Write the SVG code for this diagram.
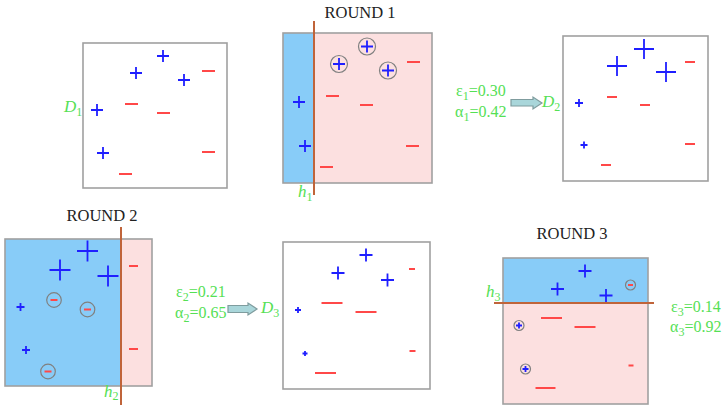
<svg xmlns="http://www.w3.org/2000/svg" width="724" height="405" viewBox="0 0 724 405">
<style>
.box{fill:#fff;stroke:#a0a0a0;stroke-width:1.6}
.bl{fill:#88CCF8}
.pk{fill:#FCE0E0}
.frame{fill:none;stroke:#a0a0a0;stroke-width:1.6}
.sep{stroke:#C0643A;stroke-width:2}
.p{stroke:#1f1fff;stroke-width:1.8;fill:none}
.m{stroke:#FF4848;stroke-width:1.8;fill:none}
.c{fill:none;stroke:#808080;stroke-width:1.2}
.t{font-family:"Liberation Serif",serif;font-size:16.5px;fill:#222}
.g{font-family:"Liberation Serif",serif;font-size:16px;fill:#55E055}
.gi{font-family:"Liberation Serif",serif;font-size:17px;fill:#55E055;font-style:italic}
.arr{fill:#A9D6DA;stroke:#7F9C9E;stroke-width:1.2}
</style>
<rect width="724" height="405" fill="#fff"/>

<g id="D1">
<rect class="box" x="83" y="43" width="144" height="145"/>
<path class="p" d="M157 56h12M163 50v12M130 73h12M136 67v12M178 80h12M184 74v12M91 110h12M97 104v12M97 153h12M103 147v12"/>
<path class="m" d="M202 71h13M125 104h13M157 113h13M202 152h13M119 174h13"/>
<text class="gi" x="64" y="112">D<tspan font-size="12" dy="4" font-style="normal">1</tspan></text>
</g>

<g id="round1">
<text class="t" x="360" y="18" text-anchor="middle">ROUND 1</text>
<rect class="bl" x="283" y="33" width="31" height="150"/>
<rect class="pk" x="314" y="33" width="118" height="150"/>
<rect class="frame" x="283" y="33" width="149" height="150"/>
<line class="sep" x1="314" y1="21" x2="314" y2="195"/>
<circle class="c" cx="367" cy="46.5" r="8.5"/>
<circle class="c" cx="339" cy="64" r="8.5"/>
<circle class="c" cx="388" cy="70.5" r="8.5"/>
<path class="p" d="M361 46.5h12M367 40.5v12M333 64h12M339 58v12M382 70.5h12M388 64.5v12M293 102h12M299 96v12M299 146h12M305 140v12"/>
<path class="m" d="M407 62h13M326 96h13M360 105h13M406 146h13M320 167h13"/>
<text class="gi" x="298" y="197">h<tspan font-size="12" dy="4" font-style="normal">1</tspan></text>
</g>

<g id="D2">
<rect class="box" x="563" y="36" width="145" height="145"/>
<path class="p" d="M634 49h20M644 39v20M607 66h20M617 56v20M656 72h20M666 62v20M575 103h8M579 99v8M580.5 145h7M584 141.5v7"/>
<path class="m" d="M685 62h10M607 97h10M640 105h10M685 144h10M601 165h10"/>
<text class="gi" x="542" y="107">D<tspan font-size="12" dy="4" font-style="normal">2</tspan></text>
</g>

<g id="round2">
<text class="t" x="102" y="221" text-anchor="middle">ROUND 2</text>
<rect class="bl" x="5" y="239" width="116" height="147"/>
<rect class="pk" x="121" y="239" width="31" height="147"/>
<rect class="frame" x="5" y="239" width="147" height="147"/>
<line class="sep" x1="121" y1="227" x2="121" y2="405"/>
<circle class="c" cx="54" cy="300" r="7.3"/>
<circle class="c" cx="87.5" cy="309.5" r="7.3"/>
<circle class="c" cx="48" cy="371.5" r="7.3"/>
<path class="p" d="M77 251h21M87.5 240.5v21M49.5 270h21M60 259.5v21M97.5 276h21M108 265.5v21M16.5 307h8M20.5 303v8M22 350h8M26 346v8"/>
<path class="m" d="M50.5 300h7M84 309.5h7M44.5 371.5h7M129 266h9M129 349h9"/>
<text class="gi" x="104" y="397">h<tspan font-size="12" dy="3" font-style="normal">2</tspan></text>
</g>

<g id="D3">
<rect class="box" x="283" y="242" width="147" height="147"/>
<path class="p" d="M359.5 255h13M366 248.5v13M331.5 273h13M338 266.5v13M381 280h13M387.5 273.5v13M295 310h6M298 307v6M302.5 353.5h5M305 351v5"/>
<path class="m" d="M409 269h6M321.5 303h21M355.5 312h21M409.5 351h6M315 373h21"/>
<text class="gi" x="261" y="313">D<tspan font-size="12" dy="4" font-style="normal">3</tspan></text>
</g>

<g id="round3">
<text class="t" x="572" y="239" text-anchor="middle">ROUND 3</text>
<rect class="bl" x="503" y="258" width="145" height="45"/>
<rect class="pk" x="503" y="303" width="145" height="101"/>
<rect class="frame" x="503" y="258" width="145" height="146"/>
<line class="sep" x1="494" y1="303" x2="654" y2="303"/>
<circle class="c" cx="630.5" cy="285" r="5"/>
<circle class="c" cx="519" cy="325.5" r="5"/>
<circle class="c" cx="525.5" cy="369" r="5"/>
<path class="p" d="M578.5 271h13M585 264.5v13M551 289h13M557.5 282.5v13M599.5 295.5h13M606 289v13M516 325.5h6M519 322.5v6M522.5 369h6M525.5 366v6"/>
<path class="m" d="M628 285h5M541 318h21M574.5 327h21M628.5 365.5h5M535.5 388h20"/>
<text class="gi" x="486" y="297">h<tspan font-size="12" dy="4" font-style="normal">3</tspan></text>
</g>

<g id="stats1">
<text class="g" x="456" y="96">ε<tspan font-size="12" dy="4">1</tspan><tspan dy="-4">=0.30</tspan></text>
<text class="g" x="455" y="117">α<tspan font-size="12" dy="4">1</tspan><tspan dy="-4">=0.42</tspan></text>
</g>
<g id="stats2">
<text class="g" x="176" y="297">ε<tspan font-size="12" dy="4">2</tspan><tspan dy="-4">=0.21</tspan></text>
<text class="g" x="175" y="318">α<tspan font-size="12" dy="4">2</tspan><tspan dy="-4">=0.65</tspan></text>
</g>
<g id="stats3">
<text class="g" x="671" y="312">ε<tspan font-size="12" dy="4">3</tspan><tspan dy="-4">=0.14</tspan></text>
<text class="g" x="670" y="332">α<tspan font-size="12" dy="4">3</tspan><tspan dy="-4">=0.92</tspan></text>
</g>

<g id="connectors">
<polygon class="arr" points="511,99.5 533,99.5 533,97 542,103 533,109 533,106 511,106"/>
<polygon class="arr" points="228,305.5 248,305.5 248,303 257,309 248,315 248,312.5 228,312.5"/>
</g>
</svg>
